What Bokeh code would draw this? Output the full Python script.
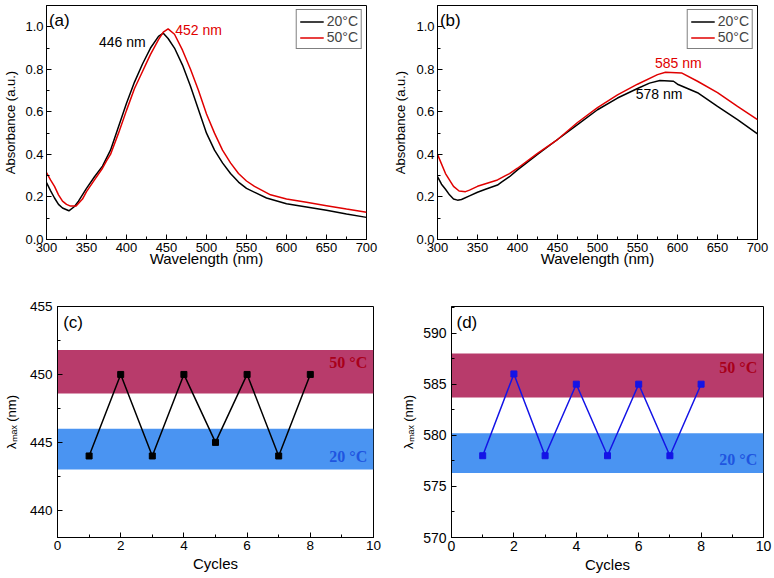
from bokeh.plotting import figure
from bokeh.layouts import column, row
from bokeh.models import SingleIntervalTicker, Label, Range1d, Legend, LegendItem, PrintfTickFormatter
from bokeh.embed import file_html
from bokeh.resources import INLINE

# ---------------- data ----------------
# (a) spectra
wl_a_20 = [300, 305, 310, 315, 320, 328, 335, 340, 350, 360, 370, 380, 390, 400, 410, 420, 430, 440, 446,
           452, 460, 470, 480, 490, 500, 510, 520, 530, 540, 550, 575, 600, 625, 650, 675, 700]
abs_a_20 = [0.267, 0.23, 0.195, 0.165, 0.148, 0.135, 0.155, 0.18, 0.24, 0.295, 0.345, 0.42, 0.53, 0.64, 0.74,
            0.825, 0.9, 0.955, 0.97, 0.945, 0.9, 0.82, 0.72, 0.61, 0.50, 0.42, 0.36, 0.31, 0.27, 0.24, 0.195,
            0.168, 0.153, 0.137, 0.12, 0.104]
wl_a_50 = [300, 305, 310, 315, 320, 325, 330, 337, 345, 350, 360, 370, 375, 380, 390, 400, 410, 420, 425, 430,
           440, 446, 452, 460, 470, 480, 490, 500, 510, 520, 530, 540, 550, 560, 580, 600, 625, 650, 675, 700]
abs_a_50 = [0.314, 0.28, 0.25, 0.21, 0.18, 0.165, 0.157, 0.158, 0.19, 0.225, 0.28, 0.335, 0.37, 0.40, 0.50,
            0.607, 0.71, 0.79, 0.83, 0.87, 0.94, 0.975, 0.99, 0.965, 0.89, 0.80, 0.70, 0.59, 0.50, 0.42, 0.36,
            0.31, 0.275, 0.25, 0.21, 0.19, 0.175, 0.159, 0.143, 0.128]
# (b) spectra
wl_b_20 = [300, 305, 310, 315, 320, 325, 330, 340, 350, 360, 375, 380, 390, 400, 425, 450, 475, 500, 525, 550,
           565, 578, 595, 600, 625, 650, 675, 700]
abs_b_20 = [0.296, 0.26, 0.236, 0.21, 0.19, 0.185, 0.188, 0.205, 0.222, 0.236, 0.256, 0.27, 0.295, 0.327, 0.40,
            0.47, 0.54, 0.61, 0.665, 0.71, 0.735, 0.747, 0.744, 0.73, 0.69, 0.626, 0.563, 0.497]
wl_b_50 = [300, 310, 320, 327, 335, 340, 350, 360, 375, 385, 390, 400, 425, 450, 475, 500, 525, 550, 575, 585,
           605, 625, 650, 675, 700]
abs_b_50 = [0.40, 0.31, 0.25, 0.228, 0.225, 0.232, 0.25, 0.262, 0.28, 0.30, 0.31, 0.335, 0.405, 0.47, 0.55,
            0.62, 0.68, 0.73, 0.775, 0.786, 0.783, 0.744, 0.69, 0.626, 0.563]
# (c), (d) cycling
cycles = [1, 2, 3, 4, 5, 6, 7, 8]
lmax_c = [444, 450, 444, 450, 445, 450, 444, 450]
lmax_d = [578, 586, 578, 585, 578, 585, 578, 585]
band_c_50 = (448.6, 451.8)
band_c_20 = (443.0, 446.0)
band_d_50 = (583.7, 588.0)
band_d_20 = (576.3, 580.2)
legend_labels = ["20°C", "50°C"]

FONT = "Liberation Sans"
SERIF = "Liberation Serif"
RED_BAND = "#B83B6B"
BLUE_BAND = "#4A94F2"
RED_TXT = "#A8001A"
BLUE_TXT = "#1F55E0"


def make_fig(width, height, xr, yr, mb, xint, yint, xlabel, ylabel, xls, yls, tick_fs="13px", yfmt=None):
    p = figure(width=width, height=height, x_range=Range1d(*xr), y_range=Range1d(*yr),
               output_backend="svg", toolbar_location=None,
               min_border_left=mb[0], min_border_right=mb[1], min_border_top=mb[2], min_border_bottom=mb[3])
    p.xgrid.visible = False
    p.ygrid.visible = False
    p.outline_line_color = "black"
    p.outline_line_width = 1
    p.outline_line_alpha = 1
    p.background_fill_color = "white"
    p.border_fill_color = "white"
    p.xaxis.ticker = SingleIntervalTicker(interval=xint, num_minor_ticks=2)
    p.yaxis.ticker = SingleIntervalTicker(interval=yint, num_minor_ticks=2)
    if yfmt:
        p.yaxis.formatter = PrintfTickFormatter(format=yfmt)
    for ax in (p.xaxis[0], p.yaxis[0]):
        ax.major_tick_in = 5
        ax.major_tick_out = 0
        ax.minor_tick_in = 3
        ax.minor_tick_out = 0
        ax.axis_line_color = "black"
        ax.major_tick_line_color = "black"
        ax.minor_tick_line_color = "black"
        ax.major_label_text_font = FONT
        ax.major_label_text_font_size = tick_fs
        ax.major_label_text_color = "black"
        ax.axis_label_text_font = FONT
        ax.axis_label_text_font_style = "normal"
        ax.axis_label_text_color = "black"
    p.xaxis.axis_label_text_font_size = "15px"
    p.yaxis.axis_label_text_font_size = "13px"
    p.xaxis.axis_label = xlabel
    p.yaxis.axis_label = ylabel
    p.xaxis.major_label_standoff = xls[0]
    p.xaxis.axis_label_standoff = xls[1]
    p.yaxis.major_label_standoff = yls[0]
    p.yaxis.axis_label_standoff = yls[1]
    return p


def spectra(p, x20, y20, x50, y50):
    r1 = p.line(x20, y20, line_color="black", line_width=1.5)
    r2 = p.line(x50, y50, line_color="#E00000", line_width=1.5)
    leg = Legend(items=[LegendItem(label=legend_labels[0], renderers=[r1]),
                        LegendItem(label=legend_labels[1], renderers=[r2])],
                 location="top_right", margin=4, padding=3, spacing=0,
                 label_text_font=FONT, label_text_font_size="14px",
                 label_height=15, glyph_height=15, glyph_width=24, label_standoff=3,
                 border_line_color="black", border_line_width=1,
                 background_fill_color="white", background_fill_alpha=1)
    p.add_layout(leg, "center")


def txt(p, x, y, s, color="black", size="14px", align="left", font=FONT, style="normal", baseline="middle"):
    p.add_layout(Label(x=x, y=y, text=s, text_color=color, text_font=font, text_font_size=size,
                       text_align=align, text_baseline=baseline, text_font_style=style))


# (a)
pa = make_fig(390, 288, (300, 700), (0, 1.1), (44, 24, 4, 48), 50, 0.2,
              "Wavelength (nm)", "Absorbance (a.u.)", (3, -5), (3, 4), yfmt="%.1f")
spectra(pa, wl_a_20, abs_a_20, wl_a_50, abs_a_50)
txt(pa, 303, 1.03, "(a)", size="17px")
txt(pa, 424, 0.93, "446 nm", align="right")
txt(pa, 461, 0.985, "452 nm", color="#E00000")

# (b)
pb = make_fig(384, 288, (300, 700), (0, 1.1), (46, 17, 5, 49), 50, 0.2,
              "Wavelength (nm)", "Absorbance (a.u.)", (3, -5), (3, 5), yfmt="%.1f")
spectra(pb, wl_b_20, abs_b_20, wl_b_50, abs_b_50)
txt(pb, 303, 1.03, "(b)", size="17px")
txt(pb, 601, 0.83, "585 nm", color="#E00000", align="center")
txt(pb, 577, 0.684, "578 nm", align="center")


def cycling(width, mb, yr, bands50, bands20, ys, color, label, ylab50, ylab20, labpos, yls, tick_fs):
    p = make_fig(width, 290, (0, 10), yr, mb, 2, 5, "Cycles", "λₘₐₓ (nm)", (3, 2), yls, tick_fs=tick_fs)
    p.quad(left=[0], right=[10], bottom=[bands50[0]], top=[bands50[1]], fill_color=RED_BAND, line_color=None)
    p.quad(left=[0], right=[10], bottom=[bands20[0]], top=[bands20[1]], fill_color=BLUE_BAND, line_color=None)
    p.line(cycles, ys, line_color=color, line_width=1.5)
    p.scatter(cycles, ys, marker="square", size=6, fill_color=color, line_color=color)
    txt(p, 9.8, ylab50, "50 °C", color=RED_TXT, size="16px", align="right", font=SERIF, style="bold")
    txt(p, 9.8, ylab20, "20 °C", color=BLUE_TXT, size="16px", align="right", font=SERIF, style="bold")
    txt(p, labpos[0], labpos[1], label, size="17px")
    return p


pc = cycling(390, (54, 17, 14, 41), (438, 455), band_c_50, band_c_20, lmax_c, "black", "(c)",
             450.9, 443.95, (0.18, 453.8), (5, 8), "13.5px")
pd_ = cycling(384, (61, 11, 18, 40), (570, 592.6), band_d_50, band_d_20, lmax_d, "#1414E6", "(d)",
              586.6, 577.6, (0.16, 591.0), (5, 4), "14px")

layout = column(row(pa, pb), row(pc, pd_))
open("out.html", "w").write(file_html(layout, INLINE))
